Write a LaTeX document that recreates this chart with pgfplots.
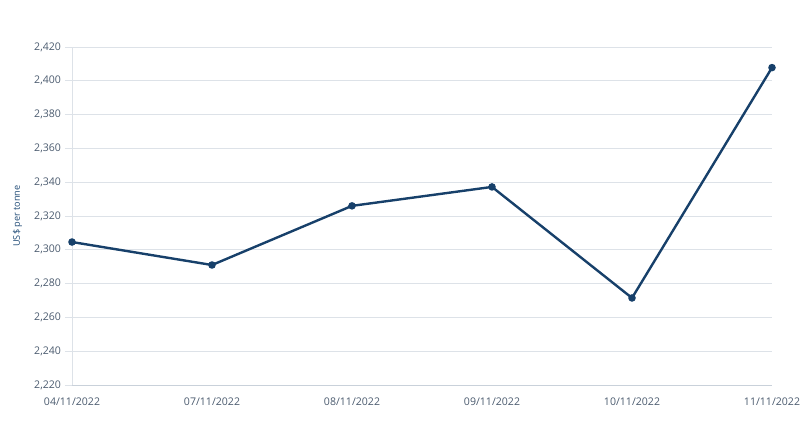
\documentclass[border=0pt]{standalone}
\usepackage{pgfplots}
\pgfplotsset{compat=1.18}
\usepackage{fontspec}
\setmainfont{Open Sans}
\definecolor{linec}{HTML}{17406A}
\definecolor{tickc}{HTML}{4A5A6E}
\definecolor{labc}{HTML}{1F4A75}
\definecolor{gridc}{HTML}{DDE2E8}
\definecolor{axisc}{HTML}{C9D1DA}
\begin{document}
\begin{tikzpicture}[x=1bp,y=1bp]
\path[use as bounding box] (-72bp,-59bp) rectangle (737bp,385bp);
\begin{axis}[
  at={(0bp,0bp)}, anchor=origin,
  scale only axis, width=700bp, height=338bp,
  xmin=0, xmax=5, ymin=2220, ymax=2420,
  xtick={0,1,2,3,4,5},
  xticklabels={04/11/2022,07/11/2022,08/11/2022,09/11/2022,10/11/2022,11/11/2022},
  ytick={2220,2240,...,2420},
  /pgf/number format/assume math mode=true,
  /pgf/number format/1000 sep={,},
  ymajorgrids, major grid style={gridc, line width=0.8bp},
  axis x line*=bottom, axis y line*=left,
  axis line style={axisc, line width=0.8bp, -},
  x axis line style={axisc},
  y axis line style={gridc},
  major x tick style={draw=none},
  major y tick style={gridc, line width=0.8bp},
  ytick style={gridc},
  tick align=outside, major tick length=7bp,
  ticklabel style={font=\fontsize{10.6}{12}\selectfont, text=tickc},
  yticklabel style={xshift=-0.5bp},
  xticklabel style={yshift=-2.5bp},
  ylabel={US\$ per tonne},
  ylabel style={font=\fontsize{9.2}{11}\selectfont, text=labc, at={(-54.5bp,169bp)}, anchor=center, rotate=0},
  clip=false,
]
\addplot[linec, line width=2.4bp, mark=*, mark size=2.5bp, mark options={fill=linec, draw=linec}] coordinates {
(0,2304.6) (1,2291) (2,2326) (3,2337.2) (4,2271.5) (5,2407.8)
};
\end{axis}
\end{tikzpicture}
\end{document}
